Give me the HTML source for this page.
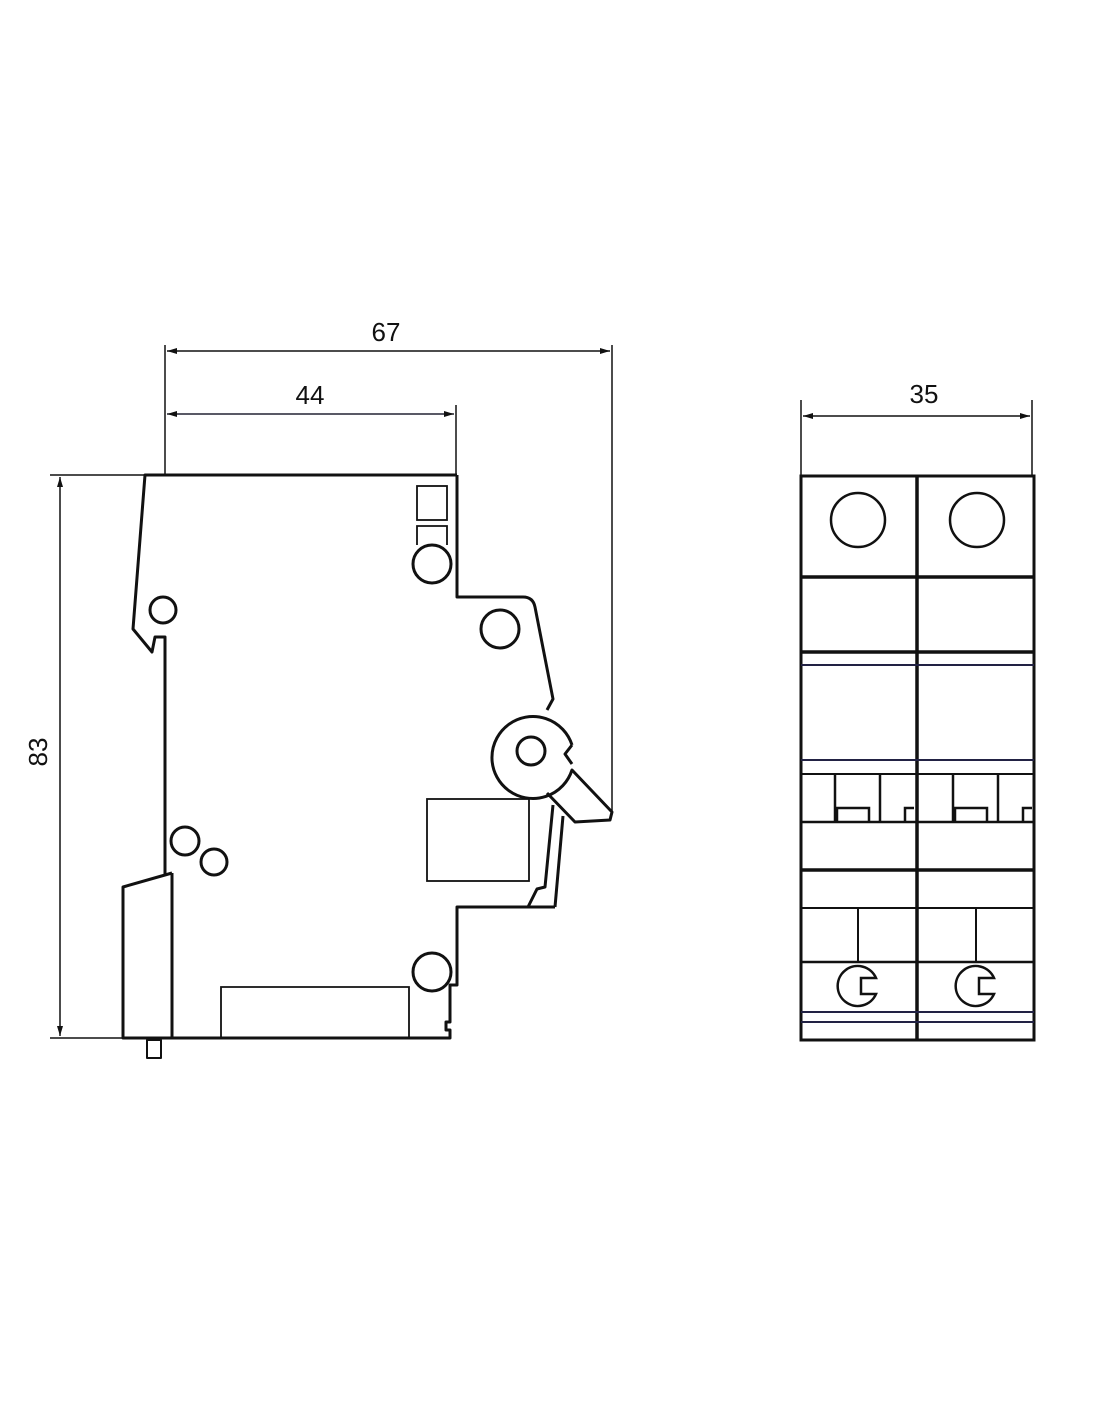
<!DOCTYPE html>
<html><head><meta charset="utf-8"><style>
html,body{margin:0;padding:0;background:#fff;width:1100px;height:1422px;overflow:hidden}
svg{display:block}
text{font-family:"Liberation Sans",Arial,sans-serif;font-size:26px;fill:#111}
</style></head><body>
<svg width="1100" height="1422" viewBox="0 0 1100 1422" xmlns="http://www.w3.org/2000/svg">
<defs>
<marker id="a" viewBox="0 0 10 6" refX="10" refY="3" markerWidth="14" markerHeight="6" markerUnits="userSpaceOnUse" orient="auto-start-reverse"><path d="M0,0 L10,3 L0,6 Z" fill="#111"/></marker>
</defs>
<g stroke="#111" fill="none">
<!-- dimensions -->
<g stroke-width="1.5">
<line x1="165" y1="345" x2="165" y2="475"/>
<line x1="612" y1="345" x2="612" y2="812"/>
<line x1="456" y1="405" x2="456" y2="475"/>
<line x1="167" y1="351" x2="610" y2="351" marker-start="url(#a)" marker-end="url(#a)"/>
<line x1="167" y1="414" x2="454" y2="414" marker-start="url(#a)" marker-end="url(#a)" stroke="#223"/>
<line x1="50" y1="475" x2="145" y2="475"/>
<line x1="50" y1="1038" x2="123" y2="1038"/>
<line x1="60" y1="477" x2="60" y2="1036" marker-start="url(#a)" marker-end="url(#a)"/>
<line x1="801" y1="400" x2="801" y2="475"/>
<line x1="1032" y1="400" x2="1032" y2="475"/>
<line x1="803" y1="416" x2="1030" y2="416" marker-start="url(#a)" marker-end="url(#a)"/>
</g>
<!-- side view -->
<g stroke-width="3" stroke-linejoin="round">
<path d="M457,475 L145,475 L133,629 L152,652 L155,637 L165,637 L165,876"/>
<path d="M457,475 L457,597 L523,597 Q533,597 535,607 L553,699 L547,710"/>
<path d="M172,873 L123,887 L123,1038 L450,1038 L450,1030 L446,1030 L446,1022 L450,1022 L450,985 L457,985 L457,907 L555,907"/>
<line x1="172" y1="873" x2="172" y2="1038"/>
<path d="M572,745 A41,41 0 1 0 572,770 L612,812 L610,820 L575,822 L547,793"/>
<path d="M572,745 L565,754 L572,764"/>
<circle cx="531" cy="751" r="14"/>
<path d="M563,816 L555,907"/>
<path d="M553,805 L545,887 L537,889 L528,907"/>
<circle cx="163" cy="610" r="13"/>
<circle cx="185" cy="841" r="14"/>
<circle cx="214" cy="862" r="13"/>
<circle cx="432" cy="564" r="19"/>
<circle cx="500" cy="629" r="19"/>
<circle cx="432" cy="972" r="19"/>
<rect x="147" y="1040" width="14" height="18" stroke-width="2"/>
</g>
<g stroke-width="1.8">
<rect x="417" y="486" width="30" height="34"/>
<path d="M417,545 L417,526 L447,526 L447,545"/>
<rect x="427" y="799" width="102" height="82"/>
<path d="M221,1038 L221,987 L409,987 L409,1038"/>
</g>
<!-- front view -->
<rect x="801" y="476" width="233" height="564" stroke-width="3"/>
<line x1="917" y1="476" x2="917" y2="1040" stroke-width="3.5"/>
<g stroke-width="3.5">
<line x1="801" y1="577" x2="1034" y2="577"/>
<line x1="801" y1="652" x2="1034" y2="652"/>
<line x1="801" y1="870" x2="1034" y2="870"/>
</g>
<g stroke-width="2">
<line x1="801" y1="665" x2="1034" y2="665" stroke="#224"/>
<line x1="801" y1="760" x2="1034" y2="760" stroke="#224"/>
<line x1="801" y1="774" x2="1034" y2="774"/>
<line x1="801" y1="822" x2="1034" y2="822" stroke-width="2.5"/>
<line x1="801" y1="908" x2="1034" y2="908"/>
<line x1="801" y1="962" x2="1034" y2="962" stroke-width="2.5"/>
<line x1="801" y1="1012" x2="1034" y2="1012" stroke="#224"/>
<line x1="801" y1="1022" x2="1034" y2="1022" stroke="#224"/>
</g>
<g stroke-width="2.5">
<circle cx="858" cy="520" r="27"/>
<circle cx="977" cy="520" r="27"/>
</g>
<g id="p" stroke-width="2.5">
<line x1="835" y1="774" x2="835" y2="822"/>
<path d="M837,822 L837,808 L869,808 L869,822"/>
<line x1="880" y1="774" x2="880" y2="822"/>
<path d="M905,822 L905,808 L914,808"/>
<line x1="858" y1="908" x2="858" y2="962" stroke-width="2"/>
<path d="M876,978 A20,20 0 1 0 876,994 L861,994 L861,978 Z"/>
</g>
<use href="#p" transform="translate(118,0)"/>
</g>
<text x="386" y="341" text-anchor="middle">67</text>
<text x="310" y="404" text-anchor="middle">44</text>
<text x="924" y="403" text-anchor="middle">35</text>
<text x="0" y="0" text-anchor="middle" transform="translate(47,752) rotate(-90)">83</text>
</svg>
</body></html>
